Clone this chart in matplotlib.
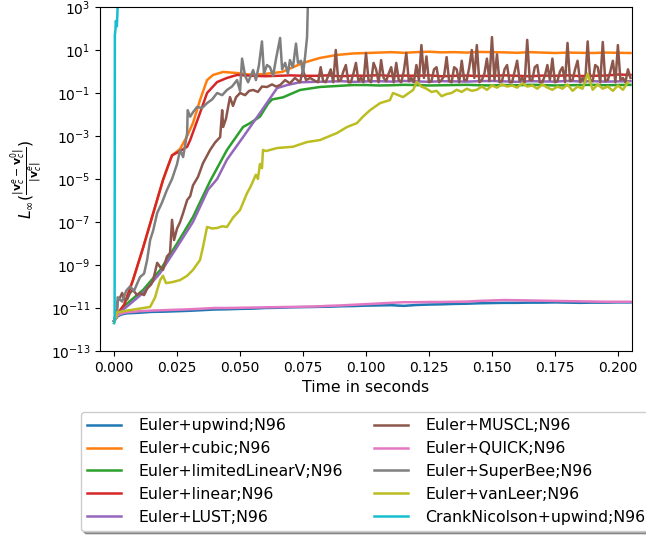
import numpy as np
import matplotlib.pyplot as plt
from matplotlib.ticker import NullLocator

# values are log10 of the L_inf error

t_grid = np.round(np.arange(0.005, 0.2051, 0.005), 3)      # 0.005 .. 0.205
t_late = np.round(np.arange(0.080, 0.2051, 0.005), 3)      # 0.080 .. 0.205
t_tail = np.round(np.arange(0.100, 0.2051, 0.005), 3)      # 0.100 .. 0.205
t_lust = np.round(np.arange(0.085, 0.2051, 0.005), 3)      # 0.085 .. 0.205
t_muscl = np.round(np.arange(0.080, 0.2051, 0.001), 3)     # 0.080 .. 0.205
t_vl = np.round(np.arange(0.122, 0.2041, 0.002), 3)        # 0.122 .. 0.204

labels = ["Euler+upwind;N96", "Euler+cubic;N96", "Euler+limitedLinearV;N96",
          "Euler+linear;N96", "Euler+LUST;N96", "Euler+MUSCL;N96",
          "Euler+QUICK;N96", "Euler+SuperBee;N96", "Euler+vanLeer;N96",
          "CrankNicolson+upwind;N96"]

# --- Euler+upwind
t_upwind = [0.0, 0.0012, 0.003] + list(t_grid)
v_upwind = [-11.6, -11.4, -11.3,
            -11.25, -11.22, -11.18, -11.17, -11.15, -11.13, -11.1, -11.07, -11.06, -11.04,
            -11.03, -11.0, -10.99, -10.97, -10.96, -10.95, -10.94, -10.92, -10.91, -10.89,
            -10.88, -10.87, -10.9, -10.86, -10.84, -10.83, -10.81, -10.8, -10.78, -10.77,
            -10.76, -10.76, -10.75, -10.75, -10.74, -10.75, -10.76, -10.75, -10.75, -10.74,
            -10.74]

# --- Euler+QUICK
t_quick = [0.0, 0.0012, 0.003] + list(t_grid)
v_quick = [-11.6, -11.35, -11.25,
           -11.2, -11.15, -11.12, -11.1, -11.08, -11.06, -11.03, -11.0, -11.0, -10.99,
           -10.98, -10.97, -10.96, -10.95, -10.94, -10.93, -10.9, -10.88, -10.85, -10.82,
           -10.79, -10.76, -10.73, -10.73, -10.72, -10.72, -10.71, -10.7, -10.67, -10.65,
           -10.63, -10.64, -10.65, -10.66, -10.67, -10.68, -10.69, -10.7, -10.71, -10.71,
           -10.71]

# --- CrankNicolson+upwind
t_cn = [0.0, 0.0002, 0.0003, 0.0005, 0.0007, 0.0009, 0.0011, 0.0013, 0.0015, 0.0017]
v_cn = [-11.7, -11.6, 1.7, 1.9, 2.35, 2.2, 2.1, 2.7, 3.3, 4.5]

# --- Euler+linear
t_linear = [0.0, 0.0012, 0.0016, 0.004, 0.0075, 0.0115, 0.0155, 0.0194, 0.0214, 0.023,
            0.0262, 0.029, 0.0302, 0.0341, 0.0369, 0.0409, 0.0448, 0.0488, 0.055, 0.06,
            0.065, 0.07, 0.075] + list(t_late)
v_linear = [-11.6, -11.35, -11.23, -10.85, -9.7, -8.2, -6.6, -5.05, -4.4, -3.9,
            -3.7, -3.5, -3.19, -1.93, -1.0, -0.49, -0.3, -0.16, -0.2, -0.22,
            -0.2, -0.18, -0.2,
            -0.2, -0.18, -0.22, -0.19, -0.2, -0.17, -0.21, -0.19, -0.2, -0.18, -0.22, -0.2,
            -0.19, -0.21, -0.2, -0.18, -0.2, -0.22, -0.19, -0.2, -0.18, -0.21, -0.2, -0.19,
            -0.14, -0.16]

# --- Euler+cubic
t_cubic = [0.0, 0.0012, 0.0016, 0.004, 0.0075, 0.0115, 0.0155, 0.0194, 0.0214, 0.023,
           0.0262, 0.029, 0.0313, 0.0341, 0.0369, 0.0393, 0.0433, 0.0488, 0.055, 0.0607,
           0.0667, 0.071, 0.075, 0.0817, 0.0885, 0.095] + list(t_tail)
v_cubic = [-11.6, -11.35, -11.23, -10.85, -9.7, -8.2, -6.6, -5.05, -4.4, -3.9,
           -3.6, -3.0, -2.4, -1.33, -0.4, -0.16, -0.02, -0.07, -0.16, -0.1,
           -0.02, 0.2, 0.4, 0.63, 0.77, 0.84,
           0.86, 0.88, 0.9, 0.87, 0.9, 0.92, 0.89, 0.9, 0.88, 0.91, 0.9,
           0.89, 0.87, 0.9, 0.88, 0.86, 0.88, 0.87, 0.86, 0.88, 0.87, 0.86]

# --- Euler+limitedLinearV
t_llv = [0.0, 0.0012, 0.0036, 0.0115, 0.0183, 0.025, 0.0313, 0.0381, 0.0448, 0.0512,
         0.054, 0.0579, 0.0611, 0.0627, 0.0671, 0.0738, 0.0817, 0.0948] + list(t_tail)
v_llv = [-11.6, -11.4, -10.95, -10.16, -9.23, -8.0, -6.77, -5.1, -3.65, -2.58,
         -2.4, -2.1, -1.5, -1.3, -1.2, -0.86, -0.72, -0.63,
         -0.63, -0.65, -0.64, -0.62, -0.63, -0.65, -0.64, -0.63, -0.62, -0.64, -0.65,
         -0.63, -0.64, -0.62, -0.63, -0.65, -0.64, -0.63, -0.62, -0.64, -0.63, -0.62]

# --- Euler+LUST
t_lust_all = [0.0, 0.0012, 0.0024, 0.0115, 0.0183, 0.025, 0.0313, 0.0373, 0.0409, 0.0448,
              0.0512, 0.0579, 0.0647, 0.0687, 0.0738, 0.08] + list(t_lust)
v_lust = [-11.6, -11.4, -11.2, -10.3, -9.37, -8.16, -7.0, -5.5, -5.0, -4.1,
          -3.05, -1.93, -0.77, -0.63, -0.5, -0.48,
          -0.47, -0.45, -0.48, -0.46, -0.45, -0.47, -0.44, -0.46, -0.48, -0.45, -0.46,
          -0.47, -0.45, -0.44, -0.46, -0.48, -0.45, -0.46, -0.47, -0.44, -0.46, -0.45,
          -0.47, -0.46, -0.45]

# --- Euler+MUSCL
t_muscl_all = [0.0, 0.0012, 0.0014, 0.0024, 0.0032, 0.004, 0.0052, 0.0063, 0.0075, 0.0091,
               0.0103, 0.0119, 0.0131, 0.0147, 0.0155, 0.0171, 0.0183, 0.0194, 0.021, 0.0222,
               0.023, 0.0238, 0.025, 0.0262, 0.0274, 0.029, 0.0302, 0.0313, 0.0333, 0.0353,
               0.0365, 0.0381, 0.0401, 0.0421, 0.0429, 0.0433, 0.0444, 0.046, 0.0472, 0.0484,
               0.05, 0.052, 0.0536, 0.0552, 0.0571, 0.0587, 0.0607, 0.0627, 0.0643, 0.0659,
               0.0679, 0.0698, 0.0718, 0.0738, 0.075, 0.0762, 0.0778] + list(t_muscl)
v_muscl = [-11.6, -11.0, -10.7, -10.5, -10.3, -10.6, -10.6, -10.3, -10.16, -10.4,
           -10.3, -10.4, -10.1, -9.9, -9.7, -8.9, -9.1, -9.23, -8.6, -8.44,
           -6.9, -7.84, -7.3, -7.0, -6.58, -5.98, -5.8, -5.3, -4.9, -4.26,
           -4.0, -3.65, -3.3, -3.05, -1.8, -2.58, -2.2, -1.19, -1.6, -1.2,
           -1.0, -1.1, -0.9, -0.86, -0.95, -0.7, -0.72, -0.6, -0.7, -0.63,
           -0.4, -0.55, -0.3, -0.5, 0.07, -0.4, -0.3,
           # 0.080 .. 0.205, one value per millisecond
           -0.45, -0.5, 0.2, -0.45, -0.5, -0.2, 0.1, -0.5, 1.0, -0.45,
           -0.4, 0.0, 0.3, -0.5, -0.5, -0.1, 0.4, -0.45, -0.3, -0.5,
           0.86, -0.4, -0.5, 0.4, 0.1, -0.5, 0.53, -0.3, -0.45, -0.1,
           0.2, -0.5, 0.4, -0.4, -0.5, 0.0, 0.86, -0.45, -0.3, -0.5,
           0.3, -0.4, 1.23, -0.3, 0.7, -0.5, -0.45, 0.1, 0.2, -0.5,
           -0.4, -0.2, 0.67, -0.45, -0.5, 0.2, 0.1, -0.5, 0.5, -0.4,
           -0.4, 0.2, 1.0, -0.3, 1.23, -0.5, -0.4, -0.1, 0.6, -0.45,
           1.6, -0.4, 0.8, -0.5, -0.45, 0.1, 0.3, -0.5, -0.5, 0.0,
           0.5, -0.45, -0.3, -0.5, 1.47, -0.4, -0.4, 0.2, 0.3, -0.5,
           -0.5, -0.2, 0.3, -0.4, 0.6, -0.5, -0.45, 0.0, 0.2, -0.5,
           1.33, -0.45, -0.4, 0.1, 0.5, -0.5, -0.3, -0.5, 1.4, -0.4,
           -0.45, 0.3, 0.2, -0.5, 1.37, -0.45, -0.4, 0.0, 0.5, -0.5,
           1.23, -0.4, -0.3, -0.5, 0.1, -0.3]

# --- Euler+SuperBee
t_superbee = [0.0, 0.0012, 0.0014, 0.0032, 0.0048, 0.0063, 0.0079, 0.0103, 0.0119, 0.0131,
              0.0143, 0.0155, 0.0171, 0.019, 0.021, 0.023, 0.025, 0.0262, 0.0274, 0.029,
              0.0292, 0.0302, 0.0313, 0.0329, 0.0349, 0.0369, 0.0389, 0.0409, 0.0429, 0.0448,
              0.0468, 0.0488, 0.05, 0.0508, 0.052, 0.0532, 0.0552, 0.0563, 0.0575, 0.0587,
              0.0595, 0.0607, 0.0619, 0.0631, 0.0643, 0.0659, 0.0667, 0.0679, 0.069, 0.0698,
              0.071, 0.0722, 0.073, 0.0742, 0.075, 0.0758, 0.0766, 0.077]
v_superbee = [-11.6, -11.1, -10.5, -10.7, -10.2, -10.0, -10.2, -9.56, -9.4, -8.77,
              -7.84, -7.4, -6.58, -6.1, -5.5, -5.0, -4.3, -3.65, -3.98, -2.86,
              -1.8, -2.1, -1.9, -1.65, -1.7, -1.47, -1.3, -1.0, -1.1, -0.86,
              -0.7, -0.4, -0.9, 0.6, -0.2, -0.5, 0.07, -0.4, 0.3, 1.4,
              -0.1, 0.3, 0.2, -0.2, 0.6, 1.56, 0.1, 0.4, -0.1, 0.53,
              0.2, 1.3, 0.4, 0.5, -0.1, 0.67, 1.6, 3.5]

# --- Euler+vanLeer
t_vanleer = [0.0, 0.0012, 0.0063, 0.0143, 0.0163, 0.0171, 0.0183, 0.0194, 0.0206, 0.023,
             0.0262, 0.029, 0.0313, 0.0341, 0.0353, 0.0369, 0.0389, 0.0409, 0.0429, 0.0448,
             0.0472, 0.05, 0.0528, 0.054, 0.0563, 0.0571, 0.0579, 0.0587, 0.0591, 0.0603,
             0.0647, 0.071, 0.0766, 0.0817, 0.0885, 0.0925, 0.0964, 0.0988, 0.1016, 0.1056,
             0.1095, 0.1107, 0.1147, 0.1187, 0.1202] + list(t_vl)
v_vanleer = [-11.7, -11.2, -11.1, -10.95, -10.5, -10.16, -9.7, -9.5, -9.84, -9.8,
             -9.7, -9.5, -9.23, -8.77, -8.16, -7.23, -7.3, -7.28, -7.2, -7.23,
             -6.8, -6.44, -5.65, -5.4, -4.8, -5.0, -4.3, -4.5, -3.65, -3.7,
             -3.56, -3.5, -3.28, -3.19, -2.86, -2.58, -2.4, -2.1, -1.8, -1.47,
             -1.33, -1.0, -1.19, -0.86, -0.49,
             -0.7, -0.8, -0.95, -0.9, -1.15, -1.05, -1.0, -0.85, -0.95, -0.8,
             -0.9, -0.85, -0.7, -0.85, -0.65, -0.75, -0.6, -0.7, -0.65, -0.75,
             -0.55, -0.7, -0.65, -0.8, -0.6, -0.75, -0.85, -0.7, -0.8, -0.6,
             -0.9, -0.7, -0.8, -0.1, -0.85, -0.6, -0.8, -0.7, -0.9, -0.65,
             -0.85, -0.5]

series = [(t_upwind, v_upwind), (t_cubic, v_cubic), (t_llv, v_llv),
          (t_linear, v_linear), (t_lust_all, v_lust), (t_muscl_all, v_muscl),
          (t_quick, v_quick), (t_superbee, v_superbee), (t_vanleer, v_vanleer),
          (t_cn, v_cn)]

fig = plt.figure(figsize=(6.46, 5.40), dpi=100)
ax = fig.add_axes([100 / 646, 1 - 351 / 540, 532 / 646, 344 / 540])

for (t, v), lab in zip(series, labels):
    ax.semilogy(t, 10.0 ** np.array(v), label=lab, lw=1.8)

ax.set_xlim(-0.0056, 0.2056)
ax.set_ylim(1e-13, 1e3)
ax.set_yticks([10.0 ** k for k in range(-13, 4, 2)])
ax.yaxis.set_minor_locator(NullLocator())
ax.set_xticks([0.0, 0.025, 0.05, 0.075, 0.1, 0.125, 0.15, 0.175, 0.2])
ax.set_xticklabels(["0.000", "0.025", "0.050", "0.075", "0.100", "0.125",
                    "0.150", "0.175", "0.200"])

ax.set_xlabel("Time in seconds", fontsize=11.3)
ax.set_ylabel(r"$L_\infty(\frac{|\mathbf{v}_c^e-\mathbf{v}_c^0|}{|\mathbf{v}_c^e|})$",
              fontsize=11.3)

ax.legend(loc="upper left", bbox_to_anchor=(81 / 646, 1 - 412 / 540),
          bbox_transform=fig.transFigure, ncol=2, shadow=True, fontsize=11.3,
          borderaxespad=0, handlelength=2.15, handletextpad=1.1)

fig.savefig("out.png", dpi=100)
